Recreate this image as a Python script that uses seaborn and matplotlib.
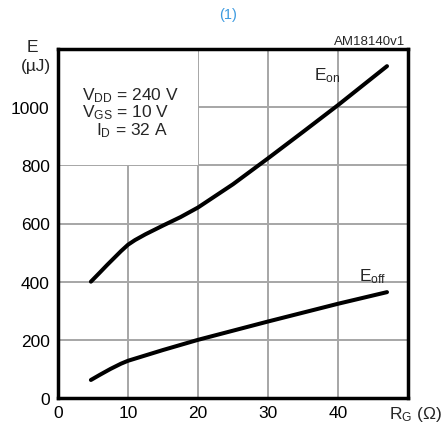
import matplotlib
matplotlib.use("Agg")
import matplotlib.pyplot as plt
from matplotlib.patches import Rectangle
import pandas as pd
import seaborn as sns

# Switching energy vs gate resistance
rg_on = [4.7, 6, 7, 8, 9, 10, 11, 12.5, 15, 17.5, 20, 25, 30, 35, 40, 47]
e_on = [400, 432, 457, 481, 505, 527, 543, 563, 593, 622, 655, 735, 824, 915, 1007, 1141]
rg_off = [4.7, 6, 7.5, 9, 10, 15, 20, 30, 40, 47]
e_off = [62, 80, 100, 118, 128, 165, 200, 263, 324, 364]
x_ticks = [0, 10, 20, 30, 40]
y_ticks = [0, 200, 400, 600, 800, 1000]

sns.set_style("white")
plt.rcParams["font.family"] = ["Liberation Sans", "DejaVu Sans"]
plt.rcParams["mathtext.fontset"] = "custom"
plt.rcParams["mathtext.rm"] = "Liberation Sans"
plt.rcParams["mathtext.it"] = "Liberation Sans"

df = pd.concat([
    pd.DataFrame({"RG": rg_on, "E": e_on, "curve": "Eon"}),
    pd.DataFrame({"RG": rg_off, "E": e_off, "curve": "Eoff"}),
])

fig = plt.figure(figsize=(4.47, 4.31), dpi=100)
ax = fig.add_axes([58 / 447, 1 - 399 / 431, 350 / 447, 349 / 431])

sns.lineplot(data=df, x="RG", y="E", units="curve", estimator=None,
             color="black", linewidth=2.9, sort=False, ax=ax, zorder=3)

ax.set_xlim(0, 50)
ax.set_ylim(0, 1200)
ax.set_xticks(range(0, 51, 10))
ax.set_yticks(range(0, 1201, 200))
ax.set_xticklabels([str(v) for v in x_ticks] + [""])
ax.set_yticklabels([str(v) for v in y_ticks] + [""])
ax.tick_params(axis="both", length=0, labelsize=12.5, colors="black")
ax.tick_params(axis="x", pad=5)
ax.tick_params(axis="y", pad=6)
ax.set_xlabel("")
ax.set_ylabel("")

ax.set_axisbelow(True)
ax.grid(True, color="#a6a6a6", linewidth=1.4)
ax.add_patch(Rectangle((0, 800), 20, 400, facecolor="white", edgecolor="none", zorder=1))

for sp in ax.spines.values():
    sp.set_visible(True)
    sp.set_color("black")
    sp.set_linewidth(2.5)
    sp.set_zorder(5)

ax.text(36.6, 1095, r"E$_{\mathrm{on}}$", fontsize=12.5, ha="left", va="baseline")
ax.text(43.0, 405, r"E$_{\mathrm{off}}$", fontsize=12.5, ha="left", va="baseline")

ax.text(3.4, 1028, r"V$_{\mathrm{DD}}$ = 240 V", fontsize=12.5, ha="left", va="baseline")
ax.text(3.4, 968, r"V$_{\mathrm{GS}}$ = 10 V", fontsize=12.5, ha="left", va="baseline")
ax.text(5.4, 908, r"I$_{\mathrm{D}}$ = 32 A", fontsize=12.5, ha="left", va="baseline")

fig.text(32 / 447, 1 - 52 / 431, "E", fontsize=12.5, ha="center", va="baseline")
fig.text(36 / 447, 1 - 71 / 431, "(µJ)", fontsize=12.5, ha="center", va="baseline")
fig.text(442 / 447, 1 - 419 / 431, r"R$_{\mathrm{G}}$ ($\Omega$)", fontsize=12.5, ha="right", va="baseline")
fig.text(405 / 447, 1 - 45 / 431, "AM18140v1", fontsize=9.5, ha="right", va="baseline")
fig.text(228 / 447, 1 - 19 / 431, "(1)", fontsize=10.5, ha="center", va="baseline", color="#3d9be0")

fig.savefig("out.png", dpi=100)
